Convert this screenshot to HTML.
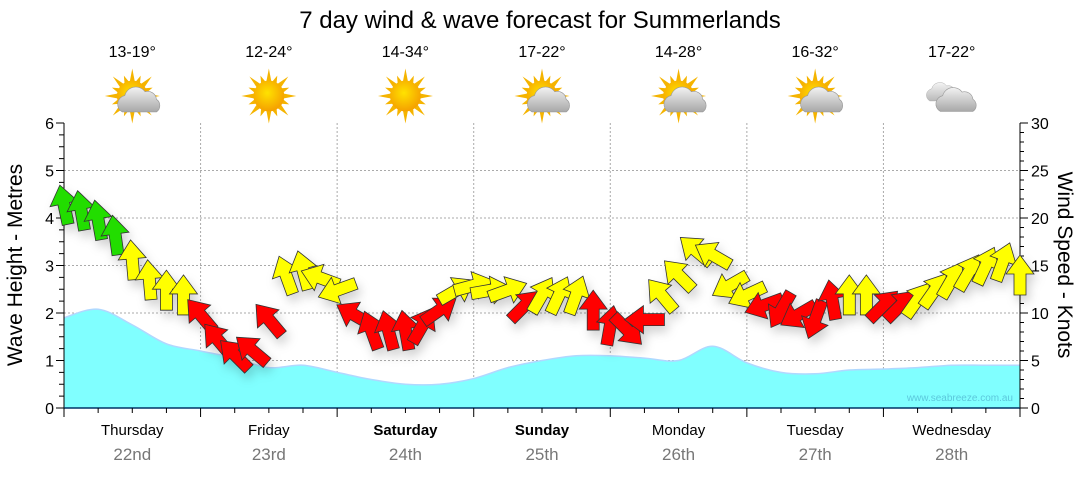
<!DOCTYPE html>
<html><head><meta charset="utf-8"><style>
body{margin:0;background:#fff;}
svg text{font-family:"Liberation Sans","DejaVu Sans",sans-serif;}
</style></head><body>
<svg id="chart" width="1080" height="475" viewBox="0 0 1080 475" xmlns="http://www.w3.org/2000/svg">
<defs>
<filter id="sh" x="-50%" y="-50%" width="200%" height="200%"><feDropShadow dx="3" dy="6" stdDeviation="5" flood-color="#000" flood-opacity="0.18"/></filter>
<radialGradient id="sunG" cx="0.45" cy="0.4" r="0.6"><stop offset="0" stop-color="#ffe200"/><stop offset="1" stop-color="#f5a000"/></radialGradient>
<linearGradient id="cloudG" x1="0" y1="0" x2="0" y2="1"><stop offset="0" stop-color="#f2f2f2"/><stop offset="1" stop-color="#a8a8a8"/></linearGradient>
</defs>
<text x="540" y="28" font-size="24" text-anchor="middle" fill="#000">7 day wind &amp; wave forecast for Summerlands</text>
<g id="grid"></g>
<g id="wave"></g>
<g id="axes"></g>
<g id="days"></g>
<g id="wx"></g>
<g id="wind" filter="url(#sh)"></g>
<text x="1013" y="401" font-size="10" text-anchor="end" fill="#5cc8dc">www.seabreeze.com.au</text>
<text transform="translate(22,265) rotate(-90)" font-size="21" text-anchor="middle">Wave Height - Metres</text>
<text transform="translate(1058,265) rotate(90)" font-size="21" text-anchor="middle">Wind Speed - Knots</text>
</svg>
<script>
const dayNames=["Thursday","Friday","Saturday","Sunday","Monday","Tuesday","Wednesday"];
const dayDates=["22nd","23rd","24th","25th","26th","27th","28th"];
const boldDays=[false,false,true,true,false,false,false];
const temps=["13-19°","12-24°","14-34°","17-22°","14-28°","16-32°","17-22°"];
const icons=["partly","sun","sun","partly","partly","partly","cloud"];
const waveTicks=[0,1,2,3,4,5,6];
const windTicks=[0,5,10,15,20,25,30];
// wave height every 6 hours (m)
const waveHeights=[1.9,2.08,1.75,1.35,1.2,1.05,0.85,0.9,0.75,0.6,0.5,0.5,0.62,0.85,1.0,1.1,1.1,1.05,1.0,1.3,0.95,0.75,0.72,0.8,0.82,0.85,0.9,0.9,0.9];
// wind every 3 hours (knots), direction arrow points (deg, 0=up, clockwise), colour class
const windSpeed=[21.4,20.8,19.8,18.2,15.6,13.5,12.4,11.9,9.8,7.2,5.6,6.1,9.3,14,14.5,13.7,12.4,9.8,8.2,8.2,8.2,8.7,10.3,12.4,12.9,12.4,12.4,10.8,11.9,11.9,11.9,10.3,8.7,8.2,9.3,11.9,14,16.6,16.1,12.9,11.9,10.8,10.3,9.8,9.3,11.4,11.9,11.9,10.8,10.8,11.4,12.4,13.5,14.3,15,15.4,14];
const windDir=[-12,-10,-10,-8,-5,-5,0,0,-40,-40,-45,-50,-40,-20,-15,-70,-110,-60,-20,-15,-10,30,55,60,75,80,70,45,30,25,20,0,10,135,-90,-40,-45,-50,-60,-120,-115,-110,-150,-120,-160,-10,0,0,45,45,35,35,30,30,25,20,0];
const windCol=["g","g","g","g","y","y","y","y","r","r","r","r","r","y","y","y","y","r","r","r","r","r","r","y","y","y","y","r","y","y","y","r","r","r","r","y","y","y","y","y","y","r","r","r","r","r","y","y","r","r","y","y","y","y","y","y","y"];
const X0=64,X1=1020,Y0=408,YT=123;
const dayW=(X1-X0)/7;
const yM=v=>Y0-(v/6)*(Y0-YT);
const yK=v=>Y0-(v/30)*(Y0-YT);
const xH=h=>X0+h/24*dayW;
const NS="http://www.w3.org/2000/svg";
function mk(tag,attrs,parent){const e=document.createElementNS(NS,tag);for(const k in attrs)e.setAttribute(k,attrs[k]);parent.appendChild(e);return e;}
const grid=document.getElementById('grid'),axes=document.getElementById('axes'),days=document.getElementById('days'),wx=document.getElementById('wx'),wind=document.getElementById('wind'),wave=document.getElementById('wave');
waveTicks.forEach(v=>{if(v>0&&v<6){const l=mk('line',{x1:X0,x2:X1,y1:yM(v),y2:yM(v),stroke:'#aaa','stroke-dasharray':'2,2'},grid);

}});
for(let d=1;d<7;d++){const l=mk('line',{x1:X0+d*dayW,x2:X0+d*dayW,y1:YT,y2:Y0,stroke:'#aaa','stroke-dasharray':'2,2'},grid);

}
// wave area (Catmull-Rom)
const pts=waveHeights.map((v,i)=>[xH(i*6),yM(v)]);
let d='M'+pts[0][0]+','+pts[0][1];
for(let i=0;i<pts.length-1;i++){const p0=pts[Math.max(0,i-1)],p1=pts[i],p2=pts[i+1],p3=pts[Math.min(pts.length-1,i+2)];
const c1=[p1[0]+(p2[0]-p0[0])/6,p1[1]+(p2[1]-p0[1])/6],c2=[p2[0]-(p3[0]-p1[0])/6,p2[1]-(p3[1]-p1[1])/6];
d+=` C${c1[0]},${c1[1]} ${c2[0]},${c2[1]} ${p2[0]},${p2[1]}`;}
const area=mk('path',{d:d+` L${X1},${Y0} L${X0},${Y0} Z`,fill:'#80ffff'},wave);


const wl=mk('path',{d:d,fill:'none',stroke:'#b0d8ff','stroke-width':1.5},wave);


mk('line',{x1:X0,x2:X0,y1:YT,y2:Y0,stroke:'#000'},axes);
mk('line',{x1:X1,x2:X1,y1:YT,y2:Y0,stroke:'#000'},axes);
mk('line',{x1:X0,x2:X1,y1:Y0,y2:Y0,stroke:'#036','stroke-width':1.5},axes);
for(let v=0;v<=24;v++){const y=yM(v/4);mk('line',{x1:X0-(v%4?5:8),x2:X0,y1:y,y2:y,stroke:'#000'},axes);}
waveTicks.forEach(v=>{const t=mk('text',{x:X0-10,y:yM(v)+6,'font-size':16,'text-anchor':'end'},axes);t.textContent=v;

});
for(let v=0;v<=30;v++){const y=yK(v);mk('line',{x1:X1,x2:X1+(v%5?4:8),y1:y,y2:y,stroke:'#000'},axes);}
windTicks.forEach(v=>{const t=mk('text',{x:X1+11,y:yK(v)+6,'font-size':16},axes);t.textContent=v;

});
for(let h=0;h<=168;h+=6){const x=xH(h);mk('line',{x1:x,x2:x,y1:Y0,y2:Y0+(h%24?5:9),stroke:'#000'},axes);}
dayNames.forEach((n,i)=>{const cx=X0+(i+0.5)*dayW;
const t=mk('text',{x:cx,y:435,'font-size':15,'text-anchor':'middle','font-weight':boldDays[i]?'bold':'normal'},days);t.textContent=n;


const t2=mk('text',{x:cx,y:460,'font-size':17,'text-anchor':'middle',fill:'#777'},days);t2.textContent=dayDates[i];


const t3=mk('text',{x:cx,y:57,'font-size':16,'text-anchor':'middle'},wx);t3.textContent=temps[i];


const g=mk('g',{transform:`translate(${cx},96) scale(1.1)`},wx);


if(icons[i]!=='cloud'){for(let r=0;r<16;r++){const a=r*22.5,L=r%2?20:25;mk('polygon',{points:`-2.5,-12 2.5,-12 0,${-L}`,fill:'#f5b400',transform:`rotate(${a})`},g);}
mk('circle',{cx:0,cy:0,r:14,fill:'url(#sunG)'},g);}
if(icons[i]==='partly'){const c=mk('g',{transform:'translate(7,3) scale(1.15)'},g);cloud(c);}
if(icons[i]==='cloud'){cloud(mk('g',{transform:'translate(-8,-4) scale(0.85)',opacity:0.8},g));cloud(mk('g',{transform:'translate(5,3) scale(1.1)'},g));}
});
function cloud(p){mk('path',{d:'M-14,10 a7,7 0 0 1 2,-13 a9,9 0 0 1 16,-3 a7,7 0 0 1 9,6 a6,6 0 0 1 0,10 Z',fill:'url(#cloudG)',stroke:'#999','stroke-width':0.5},p);}
const cols={g:'#22dd00',y:'#ffff00',r:'#ff0000'};
windSpeed.forEach((s,i)=>{const x=xH(i*3),y=yK(s);
const a=mk('polygon',{points:'-6,20 6,20 6,-1 14,-1 0,-20 -14,-1 -6,-1',fill:cols[windCol[i]],stroke:'#333','stroke-width':0.8,transform:`translate(${x},${y}) rotate(${windDir[i]})`},wind);

});
</script>
</body></html>
